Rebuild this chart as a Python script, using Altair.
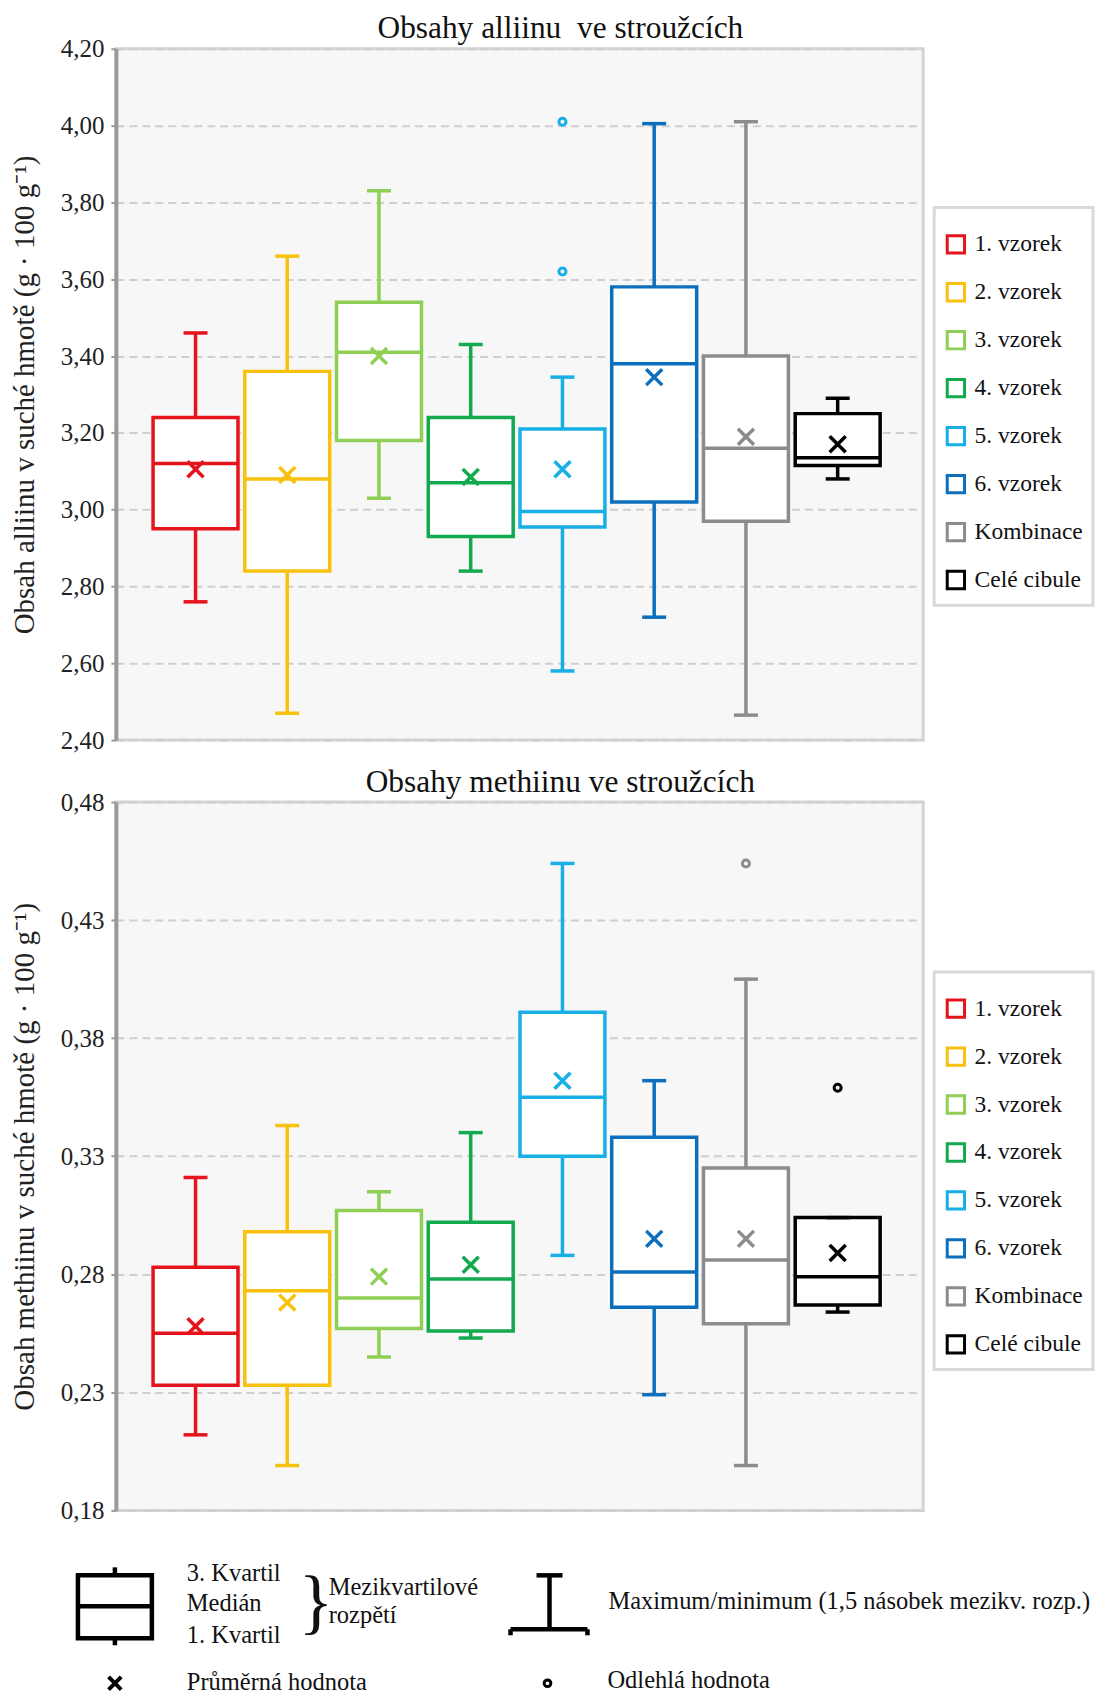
import altair as alt
import pandas as pd

# ---------------- data ----------------
cats = ["1. vzorek", "2. vzorek", "3. vzorek", "4. vzorek",
        "5. vzorek", "6. vzorek", "Kombinace", "Celé cibule"]
colors = ["#e5141c", "#f7c10d", "#8fcf55", "#13a94e",
          "#17afe6", "#0c6fbd", "#8c8c8c", "#000000"]

# alliin (g / 100 g)
a_min = [2.76, 2.47, 3.03, 2.84, 2.58, 2.72, 2.465, 3.08]
a_q1 = [2.95, 2.84, 3.18, 2.93, 2.955, 3.02, 2.97, 3.115]
a_med = [3.12, 3.08, 3.41, 3.07, 2.995, 3.38, 3.16, 3.135]
a_q3 = [3.24, 3.36, 3.54, 3.24, 3.21, 3.58, 3.40, 3.25]
a_max = [3.46, 3.66, 3.83, 3.43, 3.345, 4.005, 4.01, 3.29]
a_mean = [3.105, 3.09, 3.40, 3.085, 3.105, 3.345, 3.19, 3.17]
a_out_cat = ["5. vzorek", "5. vzorek"]
a_out_val = [4.01, 3.62]
a_ticks = [2.40, 2.60, 2.80, 3.00, 3.20, 3.40, 3.60, 3.80, 4.00, 4.20]

# methiin (g / 100 g)
m_min = [0.212, 0.199, 0.245, 0.253, 0.288, 0.229, 0.199, 0.264]
m_q1 = [0.233, 0.233, 0.257, 0.256, 0.330, 0.266, 0.259, 0.267]
m_med = [0.255, 0.273, 0.270, 0.278, 0.355, 0.281, 0.286, 0.279]
m_q3 = [0.283, 0.298, 0.307, 0.302, 0.391, 0.338, 0.325, 0.304]
m_max = [0.321, 0.343, 0.315, 0.340, 0.454, 0.362, 0.405, 0.304]
m_mean = [0.258, 0.268, 0.279, 0.284, 0.362, 0.295, 0.295, 0.289]
m_out_cat = ["Kombinace", "Celé cibule"]
m_out_val = [0.454, 0.359]
m_ticks = [0.18, 0.23, 0.28, 0.33, 0.38, 0.43, 0.48]

titles = ["Obsahy alliinu\u00a0 ve stroužcích", "Obsahy methiinu ve stroužcích"]
ytitles = ["Obsah alliinu v suché hmotě (g · 100 g⁻¹)",
           "Obsah methiinu v suché hmotě (g · 100 g⁻¹)"]

# explanation key (texts and layout)
key_texts = ["3. Kvartil", "Medián", "1. Kvartil", "Mezikvartilové", "rozpětí",
             "Maximum/minimum (1,5 násobek mezikv. rozp.)",
             "Průměrná hodnota", "Odlehlá hodnota"]

# ---------------- layout / style ----------------
SERIF = "Liberation Serif"
PW = 808
BOXW = 85
CAPW = 24
LW = 3.5
XPATH = "M-1,-1L1,1M-1,1L1,-1"

# key layout in page pixels (x) and pixels below key top (y)
PLX = 116
KW, KH = 970, 147
key_text_x = [187, 187, 187, 329, 329, 609, 187, 608]
key_text_y = [38, 68, 100, 52, 80, 66, 147, 145]
key_seg = [  # x, y, x2, y2
    (115, 31, 115, 39), (115, 102, 115, 109), (78, 70, 152, 70),
    (550, 39, 550, 93), (537, 39, 563, 39), (511, 93, 588, 93),
    (511, 93, 511, 99), (588, 93, 588, 99),
]
key_box = [(78, 152, 39, 102)]
key_brace = [(299, 67)]
key_mean = [(115, 147)]
key_out = [(548, 147)]


def panel(lo, q1, med, q3, hi, mean, out_cat, out_val, ticks, ytitle, title,
          lx, ly, h):
    df = pd.DataFrame({"cat": cats, "col": colors, "lo": lo, "q1": q1,
                       "med": med, "q3": q3, "hi": hi, "mean": mean})
    col_of = dict(zip(cats, colors))
    dfo = pd.DataFrame({"cat": out_cat, "val": out_val,
                        "col": [col_of[c] for c in out_cat]})
    xenc = alt.X("cat:N", sort=cats,
                 scale=alt.Scale(type="band", domain=cats, paddingInner=0,
                                 paddingOuter=0.4, align=0.46),
                 axis=None)
    ysc = alt.Scale(domain=[ticks[0], ticks[-1]], nice=False, zero=False)
    yax = alt.Axis(values=ticks, title=ytitle,
                   labelExpr="replace(format(datum.value, '.2f'), '.', ',')")

    def Y(f):
        return alt.Y(f + ":Q", scale=ysc, axis=yax)

    cnone = alt.Color("col:N", scale=None)
    legend = alt.Legend(title=" ", titleFontSize=1, titlePadding=14,
                        orient="none", legendX=lx, legendY=ly,
                        symbolType="square", symbolSize=300,
                        symbolStrokeWidth=3, symbolFillColor="white",
                        labelFont=SERIF, labelFontSize=23.5, labelColor="#111",
                        labelOffset=7, rowPadding=18, padding=10,
                        strokeColor="#d9d9d9", fillColor="white")
    base = alt.Chart(df)
    whisk = base.mark_rule(strokeWidth=LW, opacity=1).encode(
        x=xenc, y=Y("lo"), y2=alt.Y2("hi"), color=cnone)
    box_fill = base.mark_bar(size=BOXW, color="white", opacity=1).encode(
        x=xenc, y=Y("q1"), y2=alt.Y2("q3"))
    box_line = base.mark_bar(size=BOXW, filled=False, strokeWidth=LW,
                             opacity=1).encode(
        x=xenc, y=Y("q1"), y2=alt.Y2("q3"),
        color=alt.Color("cat:N", sort=cats,
                        scale=alt.Scale(domain=cats, range=colors),
                        legend=legend))
    med_t = base.mark_tick(size=BOXW, thickness=LW, opacity=1).encode(
        x=xenc, y=Y("med"), color=cnone)
    cap_lo = base.mark_tick(size=CAPW, thickness=LW, opacity=1).encode(
        x=xenc, y=Y("lo"), color=cnone)
    cap_hi = base.mark_tick(size=CAPW, thickness=LW, opacity=1).encode(
        x=xenc, y=Y("hi"), color=cnone)
    mean_p = base.mark_point(shape=XPATH, size=256, filled=False,
                             strokeWidth=LW, opacity=1).encode(
        x=xenc, y=Y("mean"), color=cnone)
    outl = alt.Chart(dfo).mark_point(shape="circle", size=50, filled=False,
                                     strokeWidth=3, opacity=1).encode(
        x=xenc, y=Y("val"), color=cnone)
    return alt.layer(whisk, box_fill, box_line, med_t, cap_lo, cap_hi,
                     mean_p, outl).properties(
        width=PW, height=h,
        title=alt.TitleParams(text=title, font=SERIF, fontSize=31.4,
                              fontWeight="normal", color="#111",
                              anchor="middle", frame="bounds", offset=-8,
                              dx=8),
        view=alt.ViewBackground(fill="#f7f7f7", stroke="#d4d4d4",
                                strokeWidth=3))


top = panel(a_min, a_q1, a_med, a_q3, a_max, a_mean, a_out_cat, a_out_val,
            a_ticks, ytitles[0], titles[0], 819, 159, 692)
bottom = panel(m_min, m_q1, m_med, m_q3, m_max, m_mean, m_out_cat, m_out_val,
               m_ticks, ytitles[1], titles[1], 819, 170, 709)

# ---------------- explanation key ----------------
kx_sc = alt.Scale(domain=[PLX, PLX + KW], nice=False, zero=False)
ky_sc = alt.Scale(domain=[0, KH], nice=False, zero=False, reverse=True)
ktxt = pd.DataFrame({"t": key_texts, "x": key_text_x, "y": key_text_y})
kseg = pd.DataFrame(key_seg, columns=["x", "y", "x2", "y2"])
kbox = pd.DataFrame(key_box, columns=["x", "x2", "y", "y2"])
kbrace = pd.DataFrame(key_brace, columns=["x", "y"]).assign(t="}")
kmean = pd.DataFrame(key_mean, columns=["x", "y"])
kout = pd.DataFrame(key_out, columns=["x", "y"])

kX = alt.X("x:Q", scale=kx_sc, axis=None)
kY = alt.Y("y:Q", scale=ky_sc, axis=None)
k1 = alt.Chart(ktxt).mark_text(align="left", baseline="middle", font=SERIF,
                               fontSize=24.5, color="#111").encode(
    x=kX, y=kY, text="t:N")
k2 = alt.Chart(kseg).mark_rule(strokeWidth=4.5, color="black").encode(
    x=kX, y=kY, x2="x2:Q", y2="y2:Q")
k3 = alt.Chart(kbox).mark_rect(fill="transparent", stroke="black",
                               strokeWidth=4.5).encode(
    x=kX, y=kY, x2="x2:Q", y2="y2:Q")
k4 = alt.Chart(kbrace).mark_text(align="left", baseline="middle", font=SERIF,
                                 fontSize=72, color="#111").encode(
    x=kX, y=kY, text="t:N")
k5 = alt.Chart(kmean).mark_point(shape=XPATH, size=160, filled=False,
                                 strokeWidth=4, color="black",
                                 opacity=1).encode(x=kX, y=kY)
k6 = alt.Chart(kout).mark_point(shape="circle", size=45, filled=False,
                                strokeWidth=3, color="black",
                                opacity=1).encode(x=kX, y=kY)
key = alt.layer(k3, k2, k1, k4, k5, k6).properties(width=KW, height=KH)

chart = alt.vconcat(top, bottom, key, spacing=10).resolve_scale(
    x="independent", y="independent", color="independent"
).resolve_legend(color="independent").properties(
    padding={"top": 3, "left": 0, "right": 0, "bottom": 0}
).configure(
    font=SERIF
).configure_axis(
    domainColor="#9a9a9a", domainWidth=4, tickColor="#9a9a9a", tickWidth=2,
    tickSize=5, labelFont=SERIF, labelFontSize=25, labelColor="#222",
    labelPadding=7, titleFont=SERIF, titleFontSize=29, titleFontWeight="normal",
    titleColor="#222", titlePadding=21, gridColor="#cfcfcf", gridDash=[8, 5],
    gridWidth=2
).configure_legend(strokeWidth=3).configure_view(stroke="transparent")

chart.save("out.html", embed_options={"renderer": "svg", "actions": False})
